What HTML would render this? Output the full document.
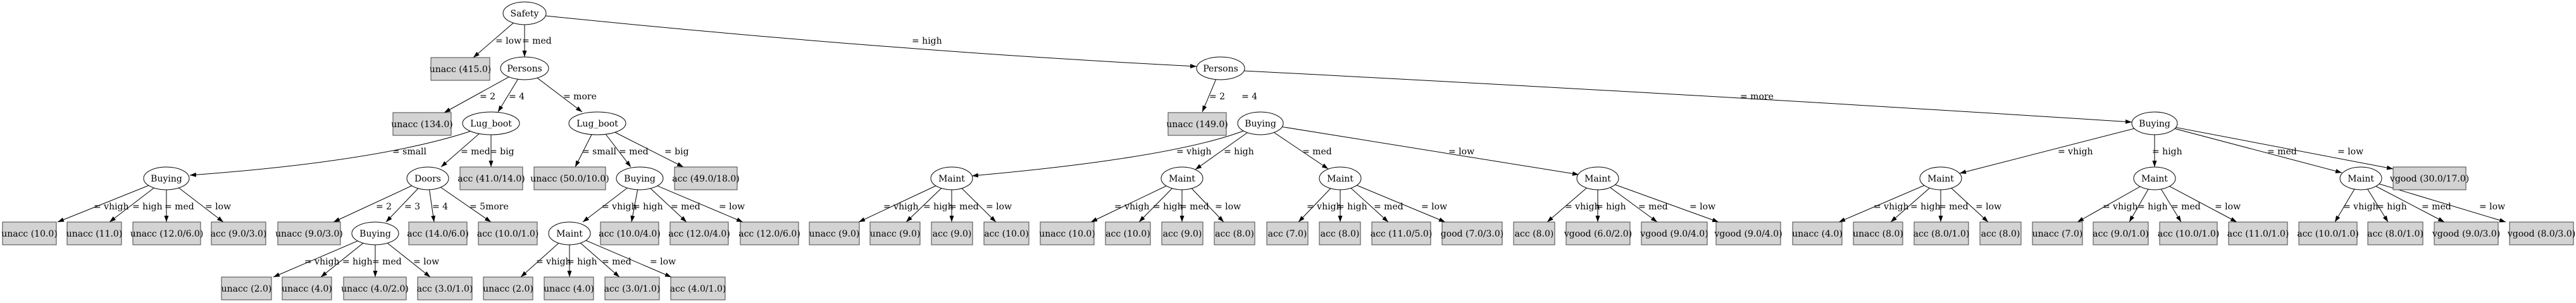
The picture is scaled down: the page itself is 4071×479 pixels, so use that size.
<!DOCTYPE html>
<html><head><meta charset="utf-8"><style>
html,body{margin:0;padding:0;background:#fff;}
svg{display:block;}
text{font-family:"DejaVu Serif","Liberation Serif",serif;font-size:14px;fill:#000;}
.e{stroke:#000;stroke-width:1;fill:none;marker-end:url(#a);}
.n{fill:#fff;stroke:#000;stroke-width:1;}
.b{fill:#d3d3d3;stroke:#444;stroke-width:1;}
.c{text-anchor:middle;}
</style></head><body>
<svg width="4071" height="479" viewBox="0 0 4071 479" xmlns="http://www.w3.org/2000/svg">
<defs><marker id="a" markerUnits="userSpaceOnUse" markerWidth="10" markerHeight="8" refX="10" refY="4" orient="auto"><path d="M0,0.5 L10,4 L0,7.5 z" fill="#000"/></marker></defs>
<g>
<line class="e" x1="829" y1="21" x2="748" y2="91"/>
<line class="e" x1="829" y1="21" x2="829" y2="90"/>
<path class="e" d="M862,25 Q1400,80 1891,105"/>
<line class="e" x1="829" y1="108" x2="702" y2="178"/>
<line class="e" x1="829" y1="108" x2="787" y2="177"/>
<line class="e" x1="829" y1="108" x2="920" y2="177"/>
<line class="e" x1="1929" y1="108" x2="1900" y2="177"/>
<path class="e" d="M1966,112 Q2700,150 3369,193"/>
<path class="e" d="M745,207 Q600,255 300,277"/>
<line class="e" x1="776" y1="195" x2="697" y2="264"/>
<line class="e" x1="776" y1="195" x2="776" y2="264"/>
<line class="e" x1="944" y1="195" x2="909" y2="264"/>
<line class="e" x1="944" y1="195" x2="997" y2="264"/>
<line class="e" x1="944" y1="195" x2="1080" y2="264"/>
<path class="e" d="M1965,207 Q1850,250 1536,278"/>
<line class="e" x1="1992" y1="195" x2="1889" y2="268"/>
<line class="e" x1="1992" y1="195" x2="2099" y2="267"/>
<line class="e" x1="1992" y1="195" x2="2495" y2="276"/>
<line class="e" x1="3405" y1="195" x2="3097" y2="274"/>
<line class="e" x1="3405" y1="195" x2="3405" y2="264"/>
<line class="e" x1="3405" y1="195" x2="3701" y2="273"/>
<line class="e" x1="3405" y1="195" x2="3782" y2="267"/>
<line class="e" x1="263" y1="282" x2="91" y2="351"/>
<line class="e" x1="263" y1="282" x2="173" y2="351"/>
<line class="e" x1="263" y1="282" x2="263" y2="351"/>
<line class="e" x1="263" y1="282" x2="353" y2="351"/>
<line class="e" x1="676" y1="282" x2="527" y2="351"/>
<line class="e" x1="676" y1="282" x2="610" y2="351"/>
<line class="e" x1="676" y1="282" x2="686" y2="351"/>
<line class="e" x1="676" y1="282" x2="776" y2="351"/>
<line class="e" x1="1011" y1="282" x2="921" y2="351"/>
<line class="e" x1="1011" y1="282" x2="998" y2="351"/>
<line class="e" x1="1011" y1="282" x2="1085" y2="351"/>
<line class="e" x1="1011" y1="282" x2="1174" y2="351"/>
<line class="e" x1="1504" y1="282" x2="1357" y2="351"/>
<line class="e" x1="1504" y1="282" x2="1432" y2="351"/>
<line class="e" x1="1504" y1="282" x2="1504" y2="351"/>
<line class="e" x1="1504" y1="282" x2="1574" y2="351"/>
<line class="e" x1="1868" y1="282" x2="1724" y2="351"/>
<line class="e" x1="1868" y1="282" x2="1800" y2="351"/>
<line class="e" x1="1868" y1="282" x2="1868" y2="351"/>
<line class="e" x1="1868" y1="282" x2="1934" y2="351"/>
<line class="e" x1="2118" y1="282" x2="2052" y2="351"/>
<line class="e" x1="2118" y1="282" x2="2118" y2="351"/>
<line class="e" x1="2118" y1="282" x2="2194" y2="351"/>
<line class="e" x1="2118" y1="282" x2="2284" y2="351"/>
<line class="e" x1="2525" y1="282" x2="2445" y2="351"/>
<line class="e" x1="2525" y1="282" x2="2525" y2="351"/>
<line class="e" x1="2525" y1="282" x2="2619" y2="351"/>
<line class="e" x1="2525" y1="282" x2="2716" y2="351"/>
<line class="e" x1="3067" y1="282" x2="2906" y2="351"/>
<line class="e" x1="3067" y1="282" x2="2988" y2="351"/>
<line class="e" x1="3067" y1="282" x2="3067" y2="351"/>
<line class="e" x1="3067" y1="282" x2="3142" y2="351"/>
<line class="e" x1="3405" y1="282" x2="3283" y2="351"/>
<line class="e" x1="3405" y1="282" x2="3365" y2="351"/>
<line class="e" x1="3405" y1="282" x2="3447" y2="351"/>
<line class="e" x1="3405" y1="282" x2="3535" y2="351"/>
<line class="e" x1="3731" y1="282" x2="3690" y2="351"/>
<line class="e" x1="3731" y1="282" x2="3774" y2="351"/>
<line class="e" x1="3731" y1="282" x2="3863" y2="351"/>
<line class="e" x1="3731" y1="282" x2="3960" y2="351"/>
<line class="e" x1="593" y1="369" x2="432" y2="438"/>
<line class="e" x1="593" y1="369" x2="507" y2="438"/>
<line class="e" x1="593" y1="369" x2="593" y2="438"/>
<line class="e" x1="593" y1="369" x2="680" y2="438"/>
<line class="e" x1="900" y1="369" x2="823" y2="438"/>
<line class="e" x1="900" y1="369" x2="900" y2="438"/>
<line class="e" x1="900" y1="369" x2="979" y2="438"/>
<line class="e" x1="900" y1="369" x2="1061" y2="438"/>
</g>
<g>
<text x="783" y="69">= low</text><text x="825" y="69">= med</text><text x="1441" y="69">= high</text>
<text x="758" y="157">= 2</text><text x="804" y="157">= 4</text><text x="890" y="157">= more</text>
<text x="1911" y="157">= 2</text><text x="1962" y="157">= 4</text><text x="2750" y="157">= more</text>
<text x="620" y="244">= small</text><text x="728" y="244">= med</text><text x="774" y="244">= big</text>
<text x="920" y="244">= small</text><text x="978" y="244">= med</text><text x="1050" y="244">= big</text>
<text x="1859" y="244">= vhigh</text><text x="1934" y="244">= high</text><text x="2058" y="244">= med</text><text x="2289" y="244">= low</text>
<text x="3252" y="244">= vhigh</text><text x="3401" y="244">= high</text><text x="3583" y="244">= med</text><text x="3694" y="244">= low</text>
<text x="148" y="331">= vhigh</text><text x="209" y="331">= high</text><text x="260" y="331">= med</text><text x="324" y="331">= low</text>
<text x="594" y="331">= 2</text><text x="639" y="331">= 3</text><text x="683" y="331">= 4</text><text x="742" y="331">= 5more</text>
<text x="951" y="331">= vhigh</text><text x="1000" y="331">= high</text><text x="1060" y="331">= med</text><text x="1136" y="331">= low</text>
<text x="1396" y="331">= vhigh</text><text x="1459" y="331">= high</text><text x="1500" y="331">= med</text><text x="1558" y="331">= low</text>
<text x="1761" y="331">= vhigh</text><text x="1822" y="331">= high</text><text x="1864" y="331">= med</text><text x="1920" y="331">= low</text>
<text x="2065" y="331">= vhigh</text><text x="2113" y="331">= high</text><text x="2171" y="331">= med</text><text x="2246" y="331">= low</text>
<text x="2473" y="331">= vhigh</text><text x="2522" y="331">= high</text><text x="2589" y="331">= med</text><text x="2670" y="331">= low</text>
<text x="2961" y="331">= vhigh</text><text x="3019" y="331">= high</text><text x="3064" y="331">= med</text><text x="3122" y="331">= low</text>
<text x="3323" y="331">= vhigh</text><text x="3378" y="331">= high</text><text x="3431" y="331">= med</text><text x="3500" y="331">= low</text>
<text x="3703" y="331">= vhigh</text><text x="3756" y="331">= high</text><text x="3827" y="331">= med</text><text x="3918" y="331">= low</text>
<text x="481" y="418">= vhigh</text><text x="541" y="418">= high</text><text x="588" y="418">= med</text><text x="653" y="418">= low</text>
<text x="847" y="418">= vhigh</text><text x="896" y="418">= high</text><text x="951" y="418">= med</text><text x="1027" y="418">= low</text>
</g>
<g>
<ellipse class="n" cx="829" cy="21" rx="34" ry="18"/><text class="c" x="829" y="26">Safety</text>
<ellipse class="n" cx="829" cy="108" rx="38" ry="18"/><text class="c" x="829" y="113">Persons</text>
<ellipse class="n" cx="1929" cy="108" rx="38" ry="18"/><text class="c" x="1929" y="113">Persons</text>
<ellipse class="n" cx="776" cy="195" rx="45" ry="18"/><text class="c" x="776" y="200">Lug_boot</text>
<ellipse class="n" cx="944" cy="195" rx="45" ry="18"/><text class="c" x="944" y="200">Lug_boot</text>
<ellipse class="n" cx="1992" cy="195" rx="36" ry="18"/><text class="c" x="1992" y="200">Buying</text>
<ellipse class="n" cx="3405" cy="195" rx="36" ry="18"/><text class="c" x="3405" y="200">Buying</text>
<ellipse class="n" cx="263" cy="282" rx="36" ry="18"/><text class="c" x="263" y="287">Buying</text>
<ellipse class="n" cx="676" cy="282" rx="33" ry="18"/><text class="c" x="676" y="287">Doors</text>
<ellipse class="n" cx="1011" cy="282" rx="37" ry="18"/><text class="c" x="1011" y="287">Buying</text>
<ellipse class="n" cx="1504" cy="282" rx="33" ry="18"/><text class="c" x="1504" y="287">Maint</text>
<ellipse class="n" cx="1868" cy="282" rx="33" ry="18"/><text class="c" x="1868" y="287">Maint</text>
<ellipse class="n" cx="2118" cy="282" rx="33" ry="18"/><text class="c" x="2118" y="287">Maint</text>
<ellipse class="n" cx="2525" cy="282" rx="33" ry="18"/><text class="c" x="2525" y="287">Maint</text>
<ellipse class="n" cx="3067" cy="282" rx="33" ry="18"/><text class="c" x="3067" y="287">Maint</text>
<ellipse class="n" cx="3405" cy="282" rx="33" ry="18"/><text class="c" x="3405" y="287">Maint</text>
<ellipse class="n" cx="3731" cy="282" rx="33" ry="18"/><text class="c" x="3731" y="287">Maint</text>
<ellipse class="n" cx="593" cy="369" rx="37" ry="18"/><text class="c" x="593" y="374">Buying</text>
<ellipse class="n" cx="900" cy="369" rx="33" ry="18"/><text class="c" x="900" y="374">Maint</text>
</g>
<g>
<rect class="b" x="681" y="91" width="93" height="36"/><text class="c" x="727.5" y="114">unacc (415.0)</text>
<rect class="b" x="621" y="178" width="92" height="36"/><text class="c" x="667" y="201">unacc (134.0)</text>
<rect class="b" x="1846" y="178" width="92" height="36"/><text class="c" x="1892" y="201">unacc (149.0)</text>
<rect class="b" x="727" y="264" width="99" height="36"/><text class="c" x="776.5" y="287">acc (41.0/14.0)</text>
<rect class="b" x="844" y="264" width="113" height="36"/><text class="c" x="900.5" y="287">unacc (50.0/10.0)</text>
<rect class="b" x="1066" y="264" width="99" height="36"/><text class="c" x="1115.5" y="287">acc (49.0/18.0)</text>
<rect class="b" x="3782" y="264" width="115" height="36"/><text class="c" x="3839.5" y="287">vgood (30.0/17.0)</text>

<rect class="b" x="4" y="351" width="85" height="36"/><text class="c" x="46.5" y="374">unacc (10.0)</text>
<rect class="b" x="106" y="351" width="86" height="36"/><text class="c" x="149" y="374">unacc (11.0)</text>
<rect class="b" x="210" y="351" width="107" height="36"/><text class="c" x="263.5" y="374">unacc (12.0/6.0)</text>
<rect class="b" x="334" y="351" width="86" height="36"/><text class="c" x="377" y="374">acc (9.0/3.0)</text>
<rect class="b" x="439" y="351" width="99" height="36"/><text class="c" x="488.5" y="374">unacc (9.0/3.0)</text>
<rect class="b" x="646" y="351" width="92" height="36"/><text class="c" x="692" y="374">acc (14.0/6.0)</text>
<rect class="b" x="756" y="351" width="93" height="36"/><text class="c" x="802.5" y="374">acc (10.0/1.0)</text>
<rect class="b" x="949" y="351" width="92" height="36"/><text class="c" x="995" y="374">acc (10.0/4.0)</text>
<rect class="b" x="1059" y="351" width="92" height="36"/><text class="c" x="1105" y="374">acc (12.0/4.0)</text>
<rect class="b" x="1170" y="351" width="92" height="36"/><text class="c" x="1216" y="374">acc (12.0/6.0)</text>
<rect class="b" x="1279" y="351" width="79" height="36"/><text class="c" x="1318.5" y="374">unacc (9.0)</text>
<rect class="b" x="1375" y="351" width="79" height="36"/><text class="c" x="1414.5" y="374">unacc (9.0)</text>
<rect class="b" x="1472" y="351" width="65" height="36"/><text class="c" x="1504.5" y="374">acc (9.0)</text>
<rect class="b" x="1555" y="351" width="71" height="36"/><text class="c" x="1590.5" y="374">acc (10.0)</text>
<rect class="b" x="1644" y="351" width="85" height="36"/><text class="c" x="1686.5" y="374">unacc (10.0)</text>
<rect class="b" x="1747" y="351" width="71" height="36"/><text class="c" x="1782.5" y="374">acc (10.0)</text>
<rect class="b" x="1836" y="351" width="65" height="36"/><text class="c" x="1868.5" y="374">acc (9.0)</text>
<rect class="b" x="1919" y="351" width="64" height="36"/><text class="c" x="1951" y="374">acc (8.0)</text>
<rect class="b" x="2002" y="351" width="65" height="36"/><text class="c" x="2034.5" y="374">acc (7.0)</text>
<rect class="b" x="2085" y="351" width="65" height="36"/><text class="c" x="2117.5" y="374">acc (8.0)</text>
<rect class="b" x="2168" y="351" width="93" height="36"/><text class="c" x="2214.5" y="374">acc (11.0/5.0)</text>
<rect class="b" x="2279" y="351" width="95" height="36"/><text class="c" x="2326.5" y="374">good (7.0/3.0)</text>
<rect class="b" x="2392" y="351" width="65" height="36"/><text class="c" x="2424.5" y="374">acc (8.0)</text>
<rect class="b" x="2475" y="351" width="101" height="36"/><text class="c" x="2525.5" y="374">vgood (6.0/2.0)</text>
<rect class="b" x="2594" y="351" width="104" height="36"/><text class="c" x="2646" y="374">vgood (9.0/4.0)</text>
<rect class="b" x="2712" y="351" width="102" height="36"/><text class="c" x="2763" y="374">vgood (9.0/4.0)</text>
<rect class="b" x="2833" y="351" width="78" height="36"/><text class="c" x="2872" y="374">unacc (4.0)</text>
<rect class="b" x="2929" y="351" width="78" height="36"/><text class="c" x="2968" y="374">unacc (8.0)</text>
<rect class="b" x="3025" y="351" width="86" height="36"/><text class="c" x="3068" y="374">acc (8.0/1.0)</text>
<rect class="b" x="3129" y="351" width="65" height="36"/><text class="c" x="3161.5" y="374">acc (8.0)</text>
<rect class="b" x="3212" y="351" width="79" height="36"/><text class="c" x="3251.5" y="374">unacc (7.0)</text>
<rect class="b" x="3308" y="351" width="87" height="36"/><text class="c" x="3351.5" y="374">acc (9.0/1.0)</text>
<rect class="b" x="3413" y="351" width="91" height="36"/><text class="c" x="3458.5" y="374">acc (10.0/1.0)</text>
<rect class="b" x="3522" y="351" width="93" height="36"/><text class="c" x="3568.5" y="374">acc (11.0/1.0)</text>
<rect class="b" x="3633" y="351" width="92" height="36"/><text class="c" x="3679" y="374">acc (10.0/1.0)</text>
<rect class="b" x="3742" y="351" width="87" height="36"/><text class="c" x="3785.5" y="374">acc (8.0/1.0)</text>
<rect class="b" x="3847" y="351" width="101" height="36"/><text class="c" x="3897.5" y="374">vgood (9.0/3.0)</text>
<rect class="b" x="3966" y="351" width="101" height="36"/><text class="c" x="4016.5" y="374">vgood (8.0/3.0)</text>

<rect class="b" x="350" y="438" width="79" height="36"/><text class="c" x="389.5" y="461">unacc (2.0)</text>
<rect class="b" x="446" y="438" width="78" height="36"/><text class="c" x="485" y="461">unacc (4.0)</text>
<rect class="b" x="543" y="438" width="99" height="36"/><text class="c" x="592.5" y="461">unacc (4.0/2.0)</text>
<rect class="b" x="660" y="438" width="86" height="36"/><text class="c" x="703" y="461">acc (3.0/1.0)</text>
<rect class="b" x="764" y="438" width="78" height="36"/><text class="c" x="803" y="461">unacc (2.0)</text>
<rect class="b" x="860" y="438" width="78" height="36"/><text class="c" x="899" y="461">unacc (4.0)</text>
<rect class="b" x="956" y="438" width="86" height="36"/><text class="c" x="999" y="461">acc (3.0/1.0)</text>
<rect class="b" x="1060" y="438" width="86" height="36"/><text class="c" x="1103" y="461">acc (4.0/1.0)</text>
</g>
</svg>
</body></html>
